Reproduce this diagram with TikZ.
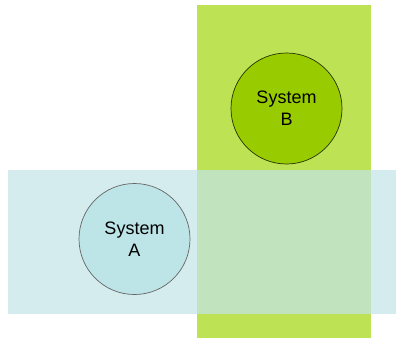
\documentclass[tikz,border=0pt]{standalone}
\usepackage{fontspec}
\setmainfont{Liberation Sans}
\definecolor{zoneGreen}{RGB}{189,226,84}
\definecolor{sysGreen}{RGB}{153,204,0}
\definecolor{zoneBlue}{RGB}{195,229,232}
\definecolor{sysBlue}{RGB}{189,229,232}
\tikzset{
  system/.style={circle, minimum size=111pt, inner sep=0pt, line width=0.7pt,
    align=center, font=\fontsize{18}{22}\selectfont},
}
\begin{document}
\begin{tikzpicture}[x=1pt,y=-1pt]
  \useasboundingbox (0,0) rectangle (396,338);
  % vertical zone of system B
  \fill[zoneGreen] (197,5) rectangle (371,338);
  \node[system, fill=sysGreen, draw=black!75!sysGreen] (B) at (286.5,108.5) {System\\B};
  % horizontal zone of system A, translucent over the other zone
  \fill[zoneBlue, fill opacity=0.72] (8,169.5) rectangle (396,314);
  \node[system, fill=sysBlue, draw=black!60] (A) at (134.5,239) {System\\A};
\end{tikzpicture}
\end{document}
